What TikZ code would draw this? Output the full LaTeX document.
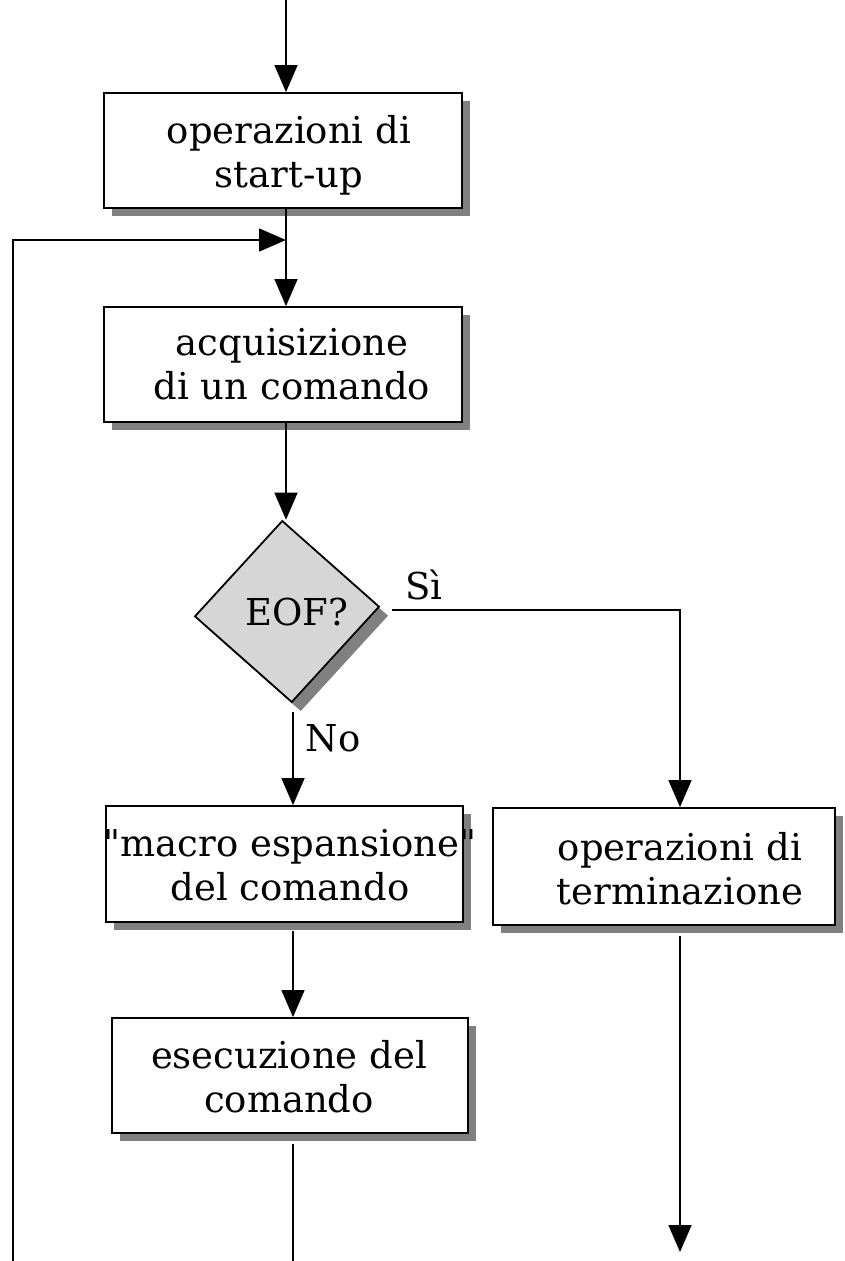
\documentclass[tikz,border=0pt]{standalone}
\usepackage{fontspec}
\setmainfont{DejaVu Serif}[Ligatures=TeXOff]
\usetikzlibrary{arrows.meta,shapes.geometric,shadows}
\begin{document}
\begin{tikzpicture}[x=1pt,y=-1pt,
  txt/.style={font=\fontsize{37}{44}\selectfont},
  boxnode/.style={draw=black,line width=1.8pt,fill=white,rectangle,inner sep=0pt,
    drop shadow={shadow xshift=8pt,shadow yshift=-8pt,opacity=1,fill=black!50}},
  boxtext/.style={txt,align=center,inner sep=0pt},
  decision/.style={draw=black,line width=1.8pt,fill=black!16,diamond,aspect=1,inner sep=0pt,
    minimum width=185pt,minimum height=182pt,rotate=3,
    drop shadow={shadow xshift=9pt,shadow yshift=-9pt,opacity=1,fill=black!50}},
  conn/.style={line width=1.5pt,black},
  arr/.style={conn,-{Triangle[length=27pt,width=23pt]}},
  lbl/.style={txt,inner sep=0pt}
]
\useasboundingbox (0,0) rectangle (844,1261);
\node[boxnode,minimum width=358pt,minimum height=115pt] (b1) at (283,150.5) {};
\node[boxtext] (b1t) at (289,155) {operazioni di\\start-up};
\node[boxnode,minimum width=358pt,minimum height=115pt] (b2) at (283,364.5) {};
\node[boxtext] (b2t) at (292,364) {acquisizione\\di un comando};
\node[decision] (dia) at (287,611.5) {};
\node[lbl] (eof) at (297,612) {EOF?};
\node[boxnode,minimum width=357pt,minimum height=116pt] (b3) at (284.5,864) {};
\node[boxtext] (b3t) at (290,865) {"macro espansione"\\del comando};
\node[boxnode,minimum width=342pt,minimum height=117pt] (b4) at (664,866.5) {};
\node[boxtext] (b4t) at (680,869) {operazioni di\\terminazione};
\node[boxnode,minimum width=356pt,minimum height=115pt] (b5) at (290,1075.5) {};
\node[boxtext] (b5t) at (289,1077) {esecuzione del\\comando};
\node[lbl] (si) at (424,585) {Sì};
\node[lbl] (no) at (333,738) {No};
\coordinate (top) at (286,0);
\coordinate (merge) at (286,240);
\coordinate (loopbot) at (13,1261);
\coordinate (loopcorner) at (13,240);
\coordinate (midbot) at (293,1261);
\coordinate (siturn) at (680,610);
\coordinate (sistart) at (392,610);
\coordinate (rightend) at (680,1252);
\coordinate (dstart) at (293,712);
\draw[arr] (top) -- (b1.north -| top);
\draw[arr] (b1.south -| top) -- (b2.north -| top);
\draw[arr] (b2.south -| top) -- (dia.north -| top);
\draw[arr] (loopbot) -- (loopcorner) -- (merge);
\draw[arr] (dstart) -- (b3.north -| dstart);
\draw[arr] (sistart) -- (siturn) -- (b4.north -| siturn);
\draw[arr] (b3.south -| dstart) ++(0,8) -- (b5.north -| dstart);
\draw[conn] (b5.south -| midbot) ++(0,10) -- (midbot);
\draw[arr] (b4.south -| rightend) ++(0,10) -- (rightend);
\end{tikzpicture}
\end{document}
